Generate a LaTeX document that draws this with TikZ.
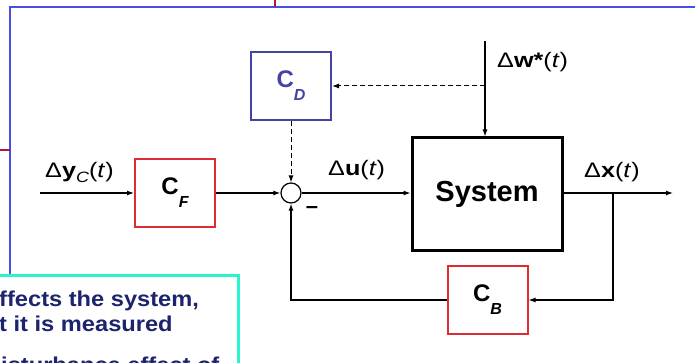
\documentclass[tikz,border=0pt]{standalone}
\usepackage{fontspec}
\setmainfont{Liberation Sans}
\newfontfamily\sigfont{Liberation Sans}[FakeStretch=1.2]
\newfontfamily\notefont{Liberation Sans}[FakeStretch=1.1]
\usetikzlibrary{arrows.meta,positioning,calc}
\definecolor{frameBlue}{RGB}{72,80,225}
\definecolor{slideRed}{RGB}{170,25,60}
\definecolor{boxRed}{RGB}{220,45,50}
\definecolor{ffPurple}{RGB}{68,66,165}
\definecolor{noteCyan}{RGB}{40,245,205}
\definecolor{noteNavy}{RGB}{28,36,110}
\newcommand{\ctrlsub}[1]{\raisebox{-13pt}{\fontsize{16}{16}\selectfont\itshape #1}}

\begin{document}
\begin{tikzpicture}[x=1pt,y=-1pt,
    every node/.style={inner sep=0pt},
    arr/.style={-{Latex[length=7pt,width=5pt]},line width=1.2pt},
    darr/.style={arr,line width=1pt,dash pattern=on 5pt off 3pt},
    ctrl/.style={draw,line width=2pt,minimum width=80pt,minimum height=68pt,
      font=\fontsize{24}{24}\selectfont\bfseries},
    sig/.style={anchor=base west,font=\sigfont\fontsize{21}{21}\selectfont},
    note/.style={anchor=base west,text=noteNavy,
      font=\notefont\fontsize{21.5}{21.5}\selectfont\bfseries}
  ]
  \useasboundingbox (0,0) rectangle (695,363);
  \clip (0,0) rectangle (695,363);
  % Slide frame remnants
  \draw[frameBlue,line width=2pt] (695,7) -- (10,7) -- (10,280);
  \draw[slideRed,line width=2pt] (275,0) -- (275,7);
  \draw[slideRed,line width=2pt] (0,150) -- (10,150);
  % Controllers, plant and summing point
  \node[ctrl,draw=ffPurple,text=ffPurple] (cd) at (291,86) {C\ctrlsub{D}};
  \node[ctrl,draw=boxRed] (cf) at (175,193) {C\ctrlsub{F}};
  \node[ctrl,draw=boxRed] (cb) at (487.5,300) {C\ctrlsub{B}};
  \node[draw,line width=3pt,minimum width=150pt,minimum height=112pt,
        font=\fontsize{29}{29}\selectfont\bfseries] (sys) at (487,194) {System};
  \node[draw,circle,line width=1.2pt,minimum size=20pt] (sum) at (291,193) {};
  \node[font=\fontsize{22}{22}\selectfont\bfseries] (minus) at (312,210) {–};
  % Free ends of the signals
  \coordinate (yin) at (40,193);
  \coordinate (wtop) at (485,41);
  \coordinate (wtap) at (485,86);
  \coordinate (xtap) at (613,193);
  \coordinate (xout) at (673,193);
  % Signal flow
  \draw[arr] (yin) -- (cf.west);
  \draw[arr] (cf.east) -- (sum.west);
  \draw[arr] (sum.east) -- (sum.east -| sys.west);
  \draw[arr] (wtop) -- (wtop |- sys.north);
  \draw[darr] (wtap) -- (cd.east);
  \draw[darr] (cd.south) -- (sum.north);
  \draw[arr] (sys.east |- xout) -- (xout);
  \draw[arr] (xtap) |- (cb.east);
  \draw[arr] (cb.west) -| (sum.south);
  % Signal labels
  \node[sig] (ylab) at (45,178) {Δ\textbf{y}\raisebox{-5pt}{\fontsize{15}{15}\selectfont\itshape C}(\textit{t})};
  \node[sig] (ulab) at (328,176) {Δ\textbf{u}(\textit{t})};
  \node[sig] (xlab) at (584,178) {Δ\textbf{x}(\textit{t})};
  \node[sig] (wlab) at (497,68) {Δ\textbf{w*}(\textit{t})};
  % Overlapping note box
  \draw[noteCyan,line width=3pt,fill=white] (-5,275) rectangle (238,380);
  \node[note] (l1) at (-1,306) {ffects the system,};
  \node[note] (l2) at (-1,331) {t it is measured};
  \node[note] (l3) at (1,372) {isturbance effect of};
\end{tikzpicture}
\end{document}
